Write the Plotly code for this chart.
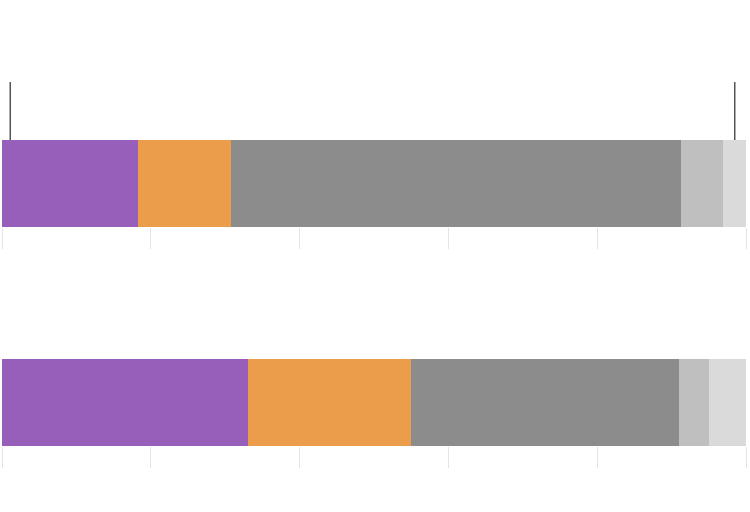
import plotly.graph_objects as go
from plotly.subplots import make_subplots

# segment shares (percent) for each of the two bars
segments = ["seg1", "seg2", "seg3", "seg4", "seg5"]
colors = ["#985fba", "#eb9d4c", "#8c8c8c", "#bfbfbf", "#dadada"]
bar_top = [18.3, 12.5, 60.5, 5.6, 3.1]
bar_bottom = [33.1, 21.9, 36.0, 4.0, 5.0]
# marker lines above the top bar (x in percent)
markers_top = [1.1, 98.5]

fig = make_subplots(rows=2, cols=1, vertical_spacing=0.05)

for row, vals in ((1, bar_top), (2, bar_bottom)):
    for name, v, c in zip(segments, vals, colors):
        fig.add_bar(x=[v], y=[0.3], width=0.6, orientation="h", name=name,
                    marker=dict(color=c, line_width=0), showlegend=False,
                    row=row, col=1)

for mx in markers_top:
    fig.add_scatter(x=[mx, mx], y=[0.6, 1.0], mode="lines",
                    line=dict(color="#000000", width=1), showlegend=False,
                    hoverinfo="skip", cliponaxis=False, row=1, col=1)

xax = dict(range=[0, 100], tickvals=[0, 20, 40, 60, 80, 100], ticks="outside",
           ticklen=21, tickcolor="#e4e4e4", tickwidth=1, showticklabels=False,
           showgrid=False, zeroline=False, showline=False)
yax = dict(range=[0, 1], visible=False, showgrid=False, zeroline=False)

fig.update_layout(
    barmode="stack", width=750, height=512, plot_bgcolor="white", paper_bgcolor="white",
    margin=dict(l=2, r=4, t=0, b=0),
    xaxis=xax, xaxis2=xax,
    yaxis=dict(yax, domain=[0.5566, 0.8398]),
    yaxis2=dict(yax, domain=[0.1289, 0.4121]),
)

fig.write_html("out.html", config={"displayModeBar": False},
               post_script="document.body.style.margin='0';")
